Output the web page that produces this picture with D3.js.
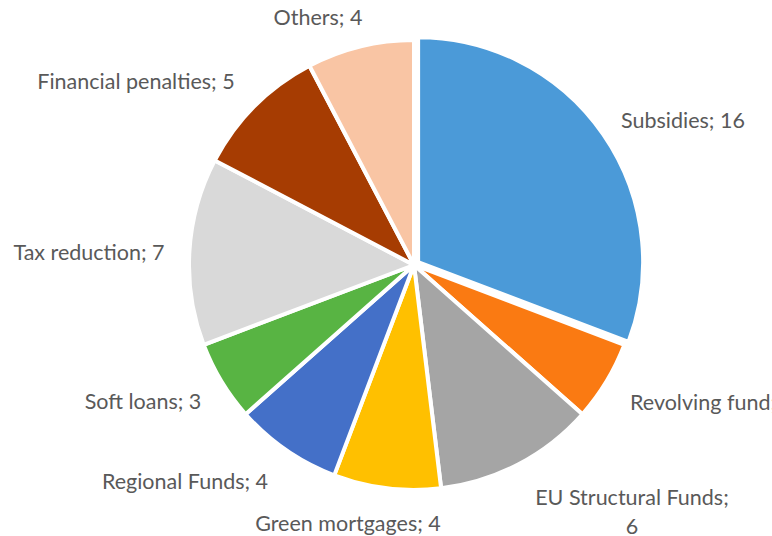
<!DOCTYPE html>
<html>
<head>
<meta charset="utf-8">
<script src="https://cdn.jsdelivr.net/npm/d3@7"></script>
<style>
  html, body { margin: 0; padding: 0; background: #fff; overflow: hidden; }
  svg { display: block; }
  .lbl { font-family: Lato, "Open Sans", sans-serif; font-size: 21.5px; fill: #595959; }
</style>
</head>
<body>
<svg id="chart" width="772" height="536"></svg>
<script>
// Instruments by number of measures
const categories = [
  "Subsidies", "Revolving fund", "EU Structural Funds", "Green mortgages",
  "Regional Funds", "Soft loans", "Tax reduction", "Financial penalties", "Others"
];
const values = [16, 3, 6, 4, 4, 3, 7, 5, 4];
const colors = [
  "#4b9ad8", "#fa7a12", "#a5a5a5", "#ffc000",
  "#4470c8", "#58b443", "#d9d9d9", "#a63c02", "#f9c5a4"
];

// Where each data label sits (label centre; "start" labels use left edge)
const labelLayout = [
  { x: 683, y: 120, anchor: "middle" },
  { x: 630, y: 402, anchor: "start" },
  { x: 632, y: 497, anchor: "middle", wrap: true },
  { x: 348, y: 523, anchor: "middle" },
  { x: 185, y: 481, anchor: "middle" },
  { x: 143, y: 401, anchor: "middle" },
  { x: 89,  y: 252, anchor: "middle" },
  { x: 136, y: 81,  anchor: "middle" },
  { x: 318, y: 17,  anchor: "middle" }
];

const cx = 414, cy = 265, radius = 225;
const explode = [5, 0, 0, 0, 0, 0, 0, 0, 0];

const svg = d3.select("#chart");
const g = svg.append("g").attr("transform", `translate(${cx},${cy})`);

const pie = d3.pie().sort(null).value(d => d.value).startAngle(0).endAngle(2 * Math.PI);
const arc = d3.arc().innerRadius(0).outerRadius(radius);

const data = categories.map((c, i) => ({ name: c, value: values[i], color: colors[i], i }));
const arcs = pie(data);

g.selectAll("path.slice")
  .data(arcs)
  .join("path")
  .attr("class", "slice")
  .attr("d", arc)
  .attr("fill", d => d.data.color)
  .attr("stroke", "#fff")
  .attr("stroke-width", 4)
  .attr("stroke-linejoin", "round")
  .attr("transform", d => {
    const a = (d.startAngle + d.endAngle) / 2;
    const e = explode[d.data.i];
    return `translate(${Math.sin(a) * e},${-Math.cos(a) * e})`;
  });

// Data labels: "Name; value"
const labels = svg.selectAll("text.lbl")
  .data(arcs)
  .join("text")
  .attr("class", "lbl")
  .attr("text-anchor", d => labelLayout[d.data.i].anchor)
  .attr("x", d => labelLayout[d.data.i].x)
  .attr("y", d => labelLayout[d.data.i].y)
  .attr("dominant-baseline", "central");

labels.each(function(d) {
  const L = labelLayout[d.data.i];
  const t = d3.select(this);
  if (L.wrap) {
    t.append("tspan").attr("x", L.x).attr("dy", 0).text(d.data.name + ";");
    t.append("tspan").attr("x", L.x).attr("dy", 29).text(d.data.value);
  } else {
    t.text(`${d.data.name}; ${d.data.value}`);
  }
});
</script>
</body>
</html>
